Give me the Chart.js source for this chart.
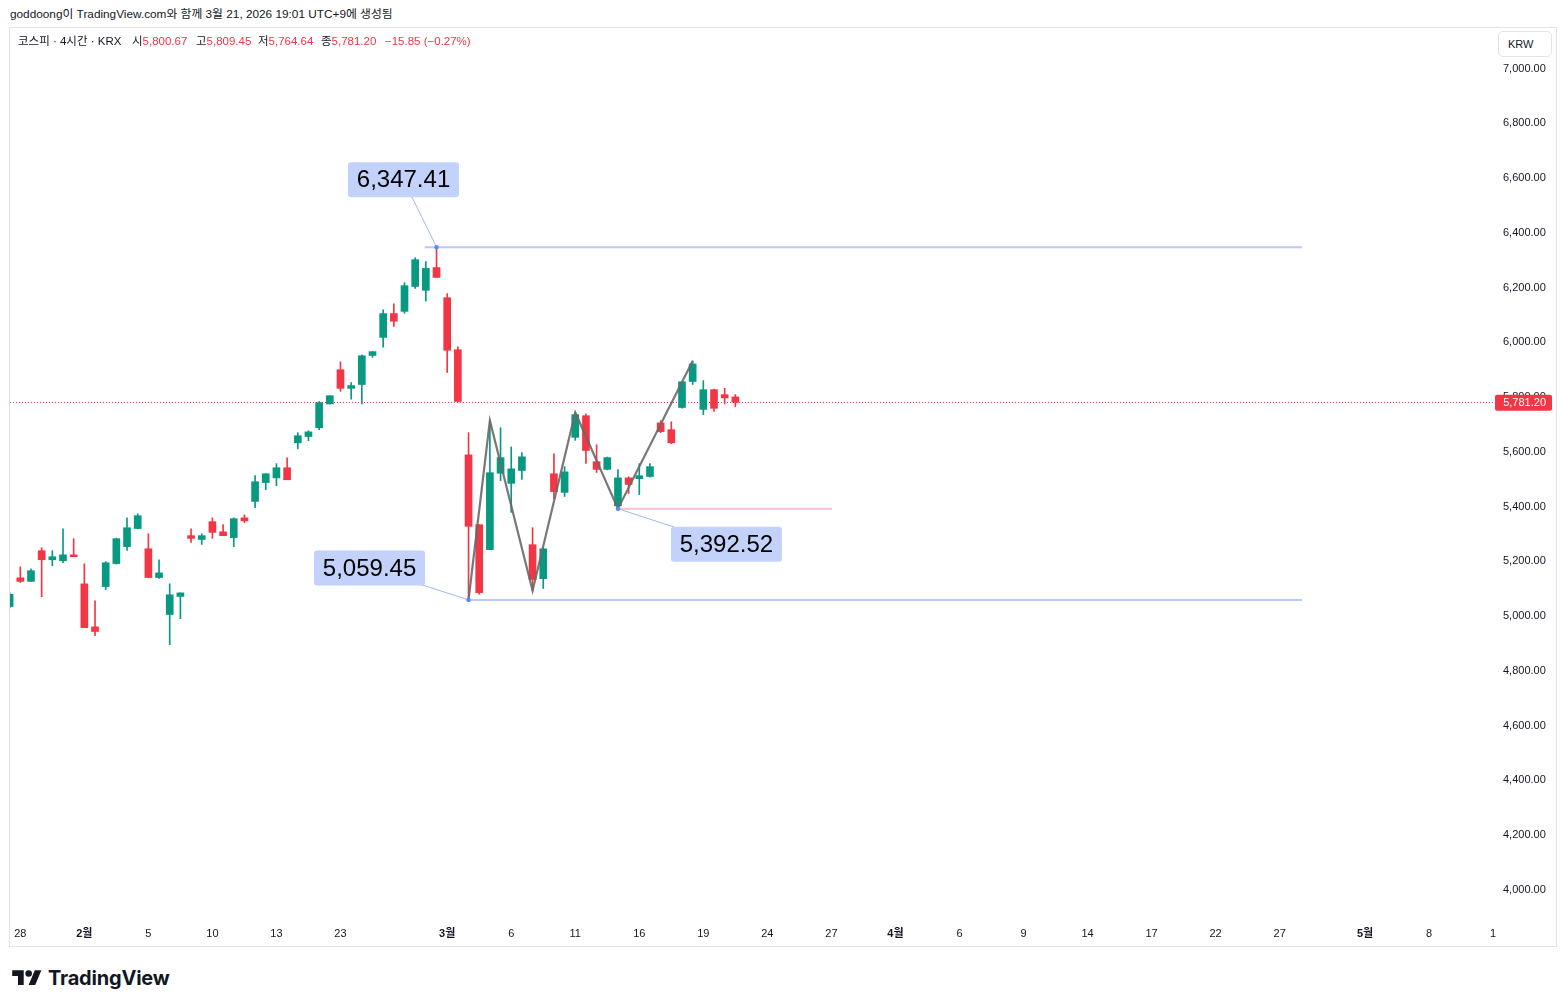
<!DOCTYPE html>
<html lang="ko">
<head>
<meta charset="utf-8">
<title>코스피 · 4시간 · KRX</title>
<script src="https://cdn.jsdelivr.net/npm/chart.js@4.4.1/dist/chart.umd.min.js"></script>
<style>
html,body{margin:0;padding:0;background:#fff;}
body{width:1566px;height:1008px;position:relative;overflow:hidden;font-family:"Liberation Sans",Arial,"Noto Sans CJK KR",sans-serif;color:#131722;}
#hdr{position:absolute;left:10px;top:6px;font-size:11.8px;line-height:16px;white-space:nowrap;}
#frame{position:absolute;left:9px;top:27px;width:1546px;height:918px;border:1px solid #e0e3eb;}
#wrap{position:absolute;left:10px;top:28px;width:1546px;height:918px;}
#legend{position:absolute;left:0;top:33px;height:16px;font-size:11.5px;white-space:nowrap;}
#legend .it{position:absolute;top:0;line-height:16px;height:16px;}
.r{color:#F23645;}
#krw{position:absolute;left:1498px;top:31px;width:54px;height:26px;border:1px solid #e0e3eb;border-radius:5px;box-sizing:border-box;font-size:11px;line-height:24px;padding-left:9px;background:#fff;}
#logo{position:absolute;left:12px;top:966px;height:24px;display:flex;align-items:center;}
#logo span{font-family:Inter,"Liberation Sans",sans-serif;font-weight:700;font-size:20px;margin-left:6px;color:#131722;letter-spacing:-0.2px}
</style>
</head>
<body>
<div id="hdr">goddoong이 TradingView.com와 함께 3월 21, 2026 19:01 UTC+9에 생성됨</div>
<div id="frame"></div>
<div id="wrap"><canvas id="c"></canvas></div>
<div id="legend"></div>
<div id="krw">KRW</div>
<div id="logo"><svg width="30" height="23" viewBox="0 0 36 28"><path fill="#131722" d="M14 22H7V11H0V4h14v18zM28 22h-8l7.5-18h8L28 22z"/><circle fill="#131722" cx="20" cy="8" r="4"/></svg><span>TradingView</span></div>
<script>
// ---- data (KOSPI, 4h bars) ----
const tradingDays = ['01-28','01-29','01-30','02-02','02-03','02-04','02-05','02-06','02-09','02-10','02-11','02-12','02-13','02-19','02-20','02-23','02-24','02-25','02-26','02-27','03-03','03-04','03-05','03-06','03-09','03-10','03-11','03-12','03-13','03-16','03-17','03-18','03-19','03-20'];
const opens  = [5035,5140,5127,5239,5206,5202,5224,5118,4961,5108,5192,5254,5320,5246,5141,5006,5072,5294,5280,5345,5308,5287,5359,5419,5488,5505,5542,5633,5656,5688,5775,5900,5832,5846,5952,6018,6105,6113,6204,6190,6273,6163,5973,5589,5334,5243,5522,5485,5532,5261,5137,5520,5452,5653,5732,5564,5536,5403,5505,5502,5510,5706,5681,5762,5857,5755,5827,5809,5800.67];
const highs  = [5085,5180,5173,5250,5239,5319,5283,5191,5056,5199,5285,5359,5374,5301,5206,5118,5085,5319,5301,5359,5334,5359,5370,5513,5520,5557,5578,5670,5677,5784,5805,5929,5853,5954,5966,6119,6141,6218,6309,6295,6347.41,6178,5984,5670,5334,5714,5688,5618,5597,5323,5246,5593,5546,5744,5739,5626,5581,5535,5509,5557,5557,5714,5710,5856,5932,5860,5829,5832,5809.45];
const lows   = [5030,5123,5127,5071,5184,5195,5217,4958,4929,5097,5190,5240,5320,5141,5138,4896,4991,5269,5262,5284,5294,5254,5341,5396,5462,5476,5498,5611,5641,5681,5775,5821,5792,5775,5945,5982,6058,6106,6197,6150,6237,5890,5784,5059.45,5080,5243,5495,5379,5499,5093,5101,5429,5437,5642,5558,5525,5534,5392.52,5448,5444,5508,5670,5630,5760,5846,5736,5748,5775,5764.64];
const closes = [5080,5127,5166,5206,5217,5224,5217,4958,4944,5195,5283,5323,5367,5141,5158,5078,5085,5284,5294,5306,5294,5356,5348,5491,5520,5542,5498,5659,5673,5780,5805,5832,5842,5951,5966,6105,6077,6207,6302,6270,6237,5971,5784,5328,5086,5524,5579,5538,5582,5134,5246,5455,5527,5736,5605,5536,5579,5505,5481,5513,5546,5674,5633,5856,5921,5827,5759,5797.05,5781.20];
// zigzag drawing (bar index, price)
const zigIdx   = [43, 45, 49, 53, 57, 64];
const zigPrice = [5059.45, 5714, 5093, 5744, 5392.52, 5932];
// axis ticks
const yTicks = [4000,4200,4400,4600,4800,5000,5200,5400,5600,5800,6000,6200,6400,6600,6800,7000];
const xTickIdx  = [1,7,13,19,25,31,41,47,53,59,65,71,77,83,89,95,101,107,113,119,127,133,139];
const xTickText = ['28','2월','5','10','13','23','3월','6','11','16','19','24','27','4월','6','9','14','17','22','27','5월','8','1'];
const monthTicks = ['2월','3월','4월','5월'];

// ---- derived tables ----
const barTimes = ['01-27 13:00'];
tradingDays.forEach(d => { barTimes.push(d + ' 09:00', d + ' 13:00'); });
const UP = '#089981', DOWN = '#F23645';
const last = closes.length - 1;
const lastPrice = closes[last];
const fmt = v => v.toLocaleString('en-US', {minimumFractionDigits: 2, maximumFractionDigits: 2});
const colOf = i => closes[i] >= opens[i] ? UP : DOWN;
const wickData = barTimes.map((t, i) => ({x: i, y: [lows[i], highs[i]]}));
const bodyData = barTimes.map((t, i) => ({x: i, y: [Math.min(opens[i], closes[i]), Math.max(opens[i], closes[i])]}));
const zigData = zigIdx.map((v, k) => ({x: v, y: zigPrice[k]}));

// horizontal drawings anchored on bars / prices
const hLines = [
  {from: 38.9, to: 121.1, price: highs[40], color: '#b9c9f9'},
  {from: 43,   to: 121.1, price: lows[43],  color: '#b9c9f9'},
  {from: 57,   to: 77.06, price: lows[57],  color: '#f7c1d2'}
];
const callouts = [
  {idx: 40, price: highs[40], dx: -33,  dy: -67.5},
  {idx: 43, price: lows[43],  dx: -99,  dy: -32},
  {idx: 57, price: lows[57],  dx: 108.5, dy: 35.5}
];

// ---- legend ----
const chg = closes[last] - closes[last - 1];
const pct = chg / closes[last - 1] * 100;
const minus = v => (v < 0 ? '\u2212' : '+') + Math.abs(v).toFixed(2);
const legendItems = [
  [18, '코스피 · 4시간 · KRX', ''],
  [132, '시', fmt(opens[last])],
  [196, '고', fmt(highs[last])],
  [258, '저', fmt(lows[last])],
  [321, '종', fmt(closes[last])],
  [385, '', minus(chg) + ' (' + minus(pct) + '%)']
];
document.getElementById('legend').innerHTML = legendItems.map(([x, a, b]) =>
  `<span class="it" style="left:${x}px">${a}<span class="r">${b}</span></span>`).join('');

// ---- plugin for drawings ----
const drawings = {
  id: 'drawings',
  beforeDatasetsDraw(chart) {
    const {ctx, chartArea: ca, scales: {y}} = chart;
    const py = Math.round(y.getPixelForValue(lastPrice)) + 0.5;
    ctx.save();
    ctx.beginPath(); ctx.rect(ca.left, ca.top, ca.right - ca.left, ca.bottom - ca.top); ctx.clip();
    ctx.strokeStyle = DOWN; ctx.lineWidth = 1; ctx.setLineDash([1, 2]);
    ctx.beginPath(); ctx.moveTo(ca.left, py); ctx.lineTo(ca.right, py); ctx.stroke();
    ctx.restore();
  },
  afterDatasetsDraw(chart) {
    const {ctx, scales: {x, y}} = chart;
    ctx.save();
    callouts.forEach(c => {
      const ax = x.getPixelForValue(c.idx), ay = y.getPixelForValue(c.price);
      const bx = ax + c.dx, by = ay + c.dy;
      ctx.strokeStyle = '#9fb7f6'; ctx.lineWidth = 1;
      ctx.beginPath(); ctx.moveTo(bx, by); ctx.lineTo(ax, ay); ctx.stroke();
      ctx.fillStyle = '#c2d2fb';
      ctx.beginPath(); ctx.roundRect(bx - 55.5, by - 17.5, 111, 35, 3); ctx.fill();
      ctx.fillStyle = '#000';
      ctx.font = '24px "Liberation Sans", Arial, sans-serif';
      ctx.textAlign = 'center'; ctx.textBaseline = 'middle';
      ctx.fillText(fmt(c.price), bx, by + 1);
      ctx.fillStyle = '#5c88f3';
      ctx.beginPath(); ctx.arc(ax, ay, 2.2, 0, Math.PI * 2); ctx.fill();
    });
    ctx.restore();
  },
  afterDraw(chart) {
    const {ctx, chartArea: ca, scales: {y}} = chart;
    const py = y.getPixelForValue(lastPrice) + 0.5;
    ctx.save();
    ctx.fillStyle = DOWN;
    ctx.beginPath(); ctx.roundRect(ca.right, py - 8, 57, 16, 2); ctx.fill();
    ctx.fillStyle = '#fff';
    ctx.font = '11px "Liberation Sans", Arial, sans-serif';
    ctx.textAlign = 'right'; ctx.textBaseline = 'middle';
    ctx.fillText(fmt(lastPrice), ca.right + 51, py + 0.5);
    ctx.restore();
  }
};

Chart.defaults.font.family = '"Liberation Sans", Arial, "Noto Sans CJK KR", sans-serif';
Chart.defaults.color = '#131722';

const datasets = [
  {type: 'line', data: zigData, borderColor: 'rgba(105,105,105,0.9)', borderWidth: 2.2, pointRadius: 0, order: 0},
  ...hLines.map(h => ({type: 'line', data: [{x: h.from, y: h.price}, {x: h.to, y: h.price}], borderColor: h.color, borderWidth: 2, pointRadius: 0, order: 1})),
  {type: 'bar', data: bodyData, grouped: false, barThickness: 7, backgroundColor: c => colOf(c.dataIndex), borderWidth: 0, borderSkipped: false, order: 2},
  {type: 'bar', data: wickData, grouped: false, barThickness: 1, backgroundColor: c => colOf(c.dataIndex), borderWidth: 0, borderSkipped: false, order: 3}
];

new Chart(document.getElementById('c'), {
  type: 'bar',
  data: {datasets},
  plugins: [drawings],
  options: {
    responsive: true,
    maintainAspectRatio: false,
    animation: false,
    layout: {padding: 0},
    plugins: {legend: {display: false}, tooltip: {enabled: false}},
    scales: {
      x: {
        type: 'linear', min: 0.0347, max: 139.18, offset: false,
        grid: {display: false, drawTicks: false}, border: {display: false},
        afterBuildTicks: s => { s.ticks = xTickIdx.map(v => ({value: v})); },
        afterFit: s => { s.height = 26; s.paddingLeft = 0; s.paddingRight = 0; },
        ticks: {
          autoSkip: false, maxRotation: 0, padding: 7, color: '#131722',
          callback: v => xTickText[xTickIdx.indexOf(v)] ?? '',
          font: c => ({size: 11, weight: monthTicks.includes(xTickText[xTickIdx.indexOf(c.tick && c.tick.value)]) ? 'bold' : 'normal'})
        }
      },
      y: {
        type: 'linear', position: 'right', min: 3890.4, max: 7147.9, beginAtZero: false,
        grid: {display: false, drawTicks: false}, border: {display: false},
        afterBuildTicks: s => { s.ticks = yTicks.map(v => ({value: v})); },
        afterFit: s => { s.width = 61; s.paddingTop = 0; s.paddingBottom = 0; },
        ticks: {padding: 8, crossAlign: 'near', color: '#131722', font: {size: 11}, callback: v => fmt(v)}
      }
    }
  }
});
</script>
</body>
</html>
